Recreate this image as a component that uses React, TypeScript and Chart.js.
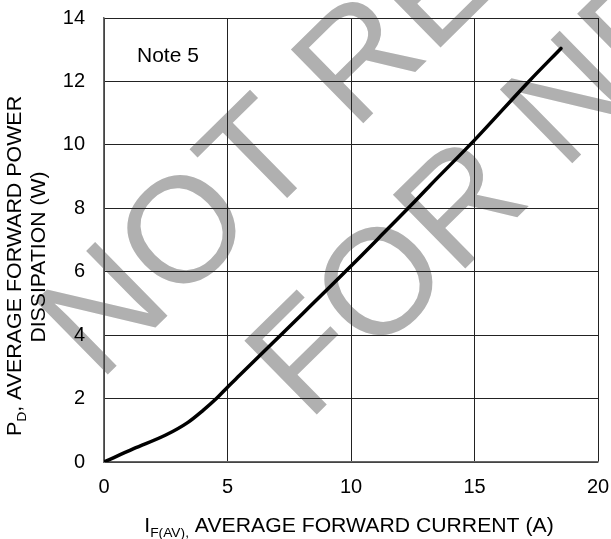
import React, { useEffect, useRef } from "react";
import { Chart, registerables } from "chart.js";

Chart.register(...registerables);

// Data
const currentA = [0, 1.2, 2.5, 3.4, 4.0, 4.55, 5.0, 5.5, 7.15, 10, 11.45, 12.5, 13.2, 15, 17.2, 18.5];
const powerW = [0, 0.42, 0.85, 1.25, 1.62, 2.0, 2.36, 2.74, 4.0, 6.18, 7.32, 8.15, 8.72, 10.15, 12.0, 13.04];

const xTicks = [0, 5, 10, 15, 20];
const yTicks = [0, 2, 4, 6, 8, 10, 12, 14];

const noteText = "Note 5";
const watermarkLines = ["NOT RECOMMENDED", "FOR NEW DESIGN"];
const xTitleParts = [
  { t: "I", sub: false },
  { t: "F(AV),", sub: true },
  { t: " AVERAGE FORWARD CURRENT (A)", sub: false },
];
const yTitleLine1 = [
  { t: "P", sub: false },
  { t: "D", sub: true },
  { t: ", AVERAGE FORWARD POWER", sub: false },
];
const yTitleLine2 = [{ t: "DISSIPATION (W)", sub: false }];

const FONT = '"Liberation Sans", Arial, sans-serif';

type Part = { t: string; sub: boolean };

function drawParts(ctx: CanvasRenderingContext2D, parts: Part[], size: number, subSize: number, subDy: number) {
  let total = 0;
  const widths: number[] = [];
  for (const p of parts) {
    ctx.font = `${p.sub ? subSize : size}px ${FONT}`;
    const w = ctx.measureText(p.t).width;
    widths.push(w);
    total += w;
  }
  let x = -total / 2;
  parts.forEach((p, i) => {
    ctx.font = `${p.sub ? subSize : size}px ${FONT}`;
    ctx.fillText(p.t, x, p.sub ? subDy : 0);
    x += widths[i];
  });
}

const decorPlugin = {
  id: "decor",
  beforeDraw(chart: any) {
    const ctx: CanvasRenderingContext2D = chart.ctx;
    ctx.save();
    ctx.fillStyle = "#fff";
    ctx.fillRect(0, 0, chart.width, chart.height);
    ctx.fillStyle = "#b0b0b0";
    ctx.font = `150px ${FONT}`;
    ctx.textAlign = "left";
    ctx.textBaseline = "alphabetic";
    const ang = (-44.5 * Math.PI) / 180;
    const origins = [
      [99, 383],
      [308, 423],
    ];
    watermarkLines.forEach((txt, i) => {
      ctx.save();
      ctx.translate(origins[i][0], origins[i][1]);
      ctx.rotate(ang);
      ctx.fillText(txt, 0, 0);
      ctx.restore();
    });
    ctx.restore();
  },
  afterDraw(chart: any) {
    const ctx: CanvasRenderingContext2D = chart.ctx;
    ctx.save();
    ctx.fillStyle = "#000";
    ctx.textAlign = "left";
    ctx.textBaseline = "alphabetic";
    ctx.font = `21px ${FONT}`;
    ctx.fillText(noteText, 137, 62);
    // x title
    ctx.save();
    ctx.translate(349, 532);
    ctx.scale(1.06, 1);
    drawParts(ctx, xTitleParts, 20, 13, 5);
    ctx.restore();
    // y title line 1
    ctx.save();
    ctx.translate(21, 266);
    ctx.rotate(-Math.PI / 2);
    ctx.scale(1.07, 1);
    drawParts(ctx, yTitleLine1, 20, 13, 5);
    ctx.restore();
    // y title line 2
    ctx.save();
    ctx.translate(45, 257);
    ctx.rotate(-Math.PI / 2);
    ctx.scale(1.06, 1);
    drawParts(ctx, yTitleLine2, 20, 13, 5);
    ctx.restore();
    ctx.restore();
  },
};

export default function App() {
  const ref = useRef<HTMLCanvasElement>(null);
  useEffect(() => {
    if (!ref.current) return;
    const chart = new Chart(ref.current, {
      type: "line",
      data: {
        datasets: [
          {
            data: currentA.map((x, i) => ({ x, y: powerW[i] })),
            borderColor: "#000",
            borderWidth: 3.5,
            pointRadius: 0,
            cubicInterpolationMode: "monotone",
            borderCapStyle: "round",
            borderJoinStyle: "round",
          },
        ],
      },
      options: {
        responsive: false,
        animation: false,
        layout: { padding: { top: 18, right: 13, left: 0, bottom: 0 } },
        plugins: { legend: { display: false }, tooltip: { enabled: false } },
        scales: {
          x: {
            type: "linear",
            min: 0,
            max: 20,
            afterFit: (s: any) => {
              s.height = 77;
              s.paddingLeft = 0;
              s.paddingRight = 0;
            },
            afterBuildTicks: (s: any) => {
              s.ticks = xTicks.map((v) => ({ value: v }));
            },
            ticks: {
              color: "#000",
              font: { size: 20, family: FONT },
              padding: 13,
              maxRotation: 0,
            },
            grid: { color: "#222", lineWidth: 1, drawTicks: false },
            border: { color: "#666", width: 1.5 },
          },
          y: {
            type: "linear",
            min: 0,
            max: 14,
            afterFit: (s: any) => {
              s.width = 104;
              s.paddingTop = 0;
              s.paddingBottom = 0;
            },
            afterBuildTicks: (s: any) => {
              s.ticks = yTicks.map((v) => ({ value: v }));
            },
            ticks: {
              color: "#000",
              font: { size: 20, family: FONT },
              padding: 19,
            },
            grid: { color: "#222", lineWidth: 1, drawTicks: false },
            border: { color: "#666", width: 1.5 },
          },
        },
      },
      plugins: [decorPlugin],
    } as any);
    return () => chart.destroy();
  }, []);
  return (
    <div style={{ position: "absolute", left: 0, top: 0, width: 611, height: 539 }}>
      <canvas ref={ref} width={611} height={539} />
    </div>
  );
}
